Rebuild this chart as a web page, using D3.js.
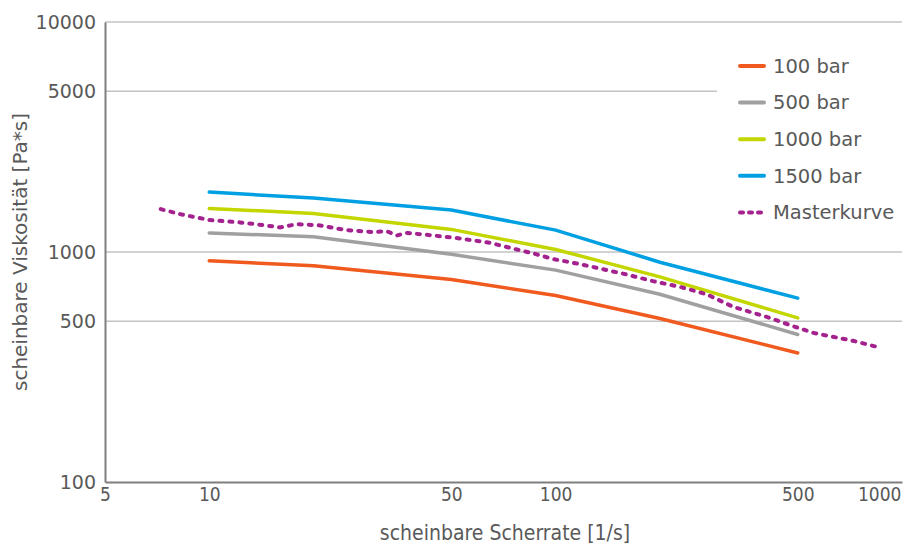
<!DOCTYPE html>
<html lang="de">
<head>
<meta charset="UTF-8">
<script src="https://cdn.jsdelivr.net/npm/d3@7"></script>
<style>
  body { margin: 0; background: #fff; }
  text { font-family: "DejaVu Sans", Verdana, sans-serif; fill: #595959; }
  .cond { font-family: "DejaVu Sans Condensed", "DejaVu Sans", sans-serif; }
</style>
</head>
<body>
<svg id="chart" width="909" height="545"></svg>
<script>
// shear rates for the pressure series [1/s]
const rates = [10, 20, 50, 100, 200, 500];
const visc100 = [915, 872, 760, 647, 514, 364];
const visc500 = [1211, 1164, 977, 834, 655, 438];
const visc1000 = [1547, 1471, 1254, 1026, 780, 517];
const visc1500 = [1822, 1715, 1521, 1245, 903, 630];

// master curve
const masterRates = [7.24, 8.23, 10.05, 12.27, 14.3, 16.0, 17.9, 20.9, 24.9, 29.8, 32.5, 34.8, 37.2,
  44.3, 53.0, 64.6, 77.2, 86.2, 98.5, 115, 134, 160, 191, 229, 273, 326, 407, 485, 554, 723, 863];
const masterVisc = [1536, 1461, 1376, 1345, 1309, 1279, 1322, 1305, 1245, 1220, 1232, 1180, 1211,
  1180, 1145, 1096, 1026, 986, 931, 892, 848, 799, 747, 705, 655, 577, 522, 476, 445, 411, 384];

const seriesNames = ["100 bar", "500 bar", "1000 bar", "1500 bar", "Masterkurve"];
const seriesColors = ["#f05a1e", "#a0a0a0", "#c3d600", "#00a0e3", "#a3228d"];

const xTicks = [5, 10, 50, 100, 500, 1000];
const yTicks = [100, 500, 1000, 5000, 10000];

const svg = d3.select("#chart");
const plotL = 105, plotR = 902, plotT = 22, plotB = 482;

const x = d3.scaleLog().domain([5, 1000]).range([plotL, plotR]);
const y = d3.scaleLog().domain([100, 10000]).range([plotB, plotT]);

// grid lines
svg.append("g")
  .selectAll("line")
  .data(yTicks.filter(d => d > 100))
  .join("line")
  .attr("x1", plotL).attr("x2", plotR)
  .attr("y1", d => y(d)).attr("y2", d => y(d))
  .attr("stroke", "#c3c3c3")
  .attr("stroke-width", 1.5);

// axes
const yAxis = svg.append("g")
  .attr("transform", `translate(${plotL},0)`)
  .call(d3.axisLeft(y).tickValues(yTicks).tickFormat(d3.format("d")).tickSize(0).tickPadding(9));
yAxis.select(".domain").attr("stroke", "#7f7f7f").attr("stroke-width", 2);
yAxis.selectAll("text").style("font-size", "19px").attr("dy", "0.35em");

const xAxis = svg.append("g")
  .attr("transform", `translate(0,${plotB})`)
  .call(d3.axisBottom(x).tickValues(xTicks).tickFormat(d3.format("d")).tickSize(0).tickPadding(6));
xAxis.select(".domain").attr("stroke", "#7f7f7f").attr("stroke-width", 2);
xAxis.selectAll("text")
  .attr("class", "cond")
  .style("font-size", "19px")
  .attr("text-anchor", d => d === 1000 ? "end" : "middle")
  .attr("dx", d => d === 1000 ? "-1" : null)
  .attr("dy", "0.71em");

// series
const line = d3.line().x(d => x(d[0])).y(d => y(d[1]));
[visc100, visc500, visc1000, visc1500].forEach((vals, i) => {
  svg.append("path")
    .datum(rates.map((r, j) => [r, vals[j]]))
    .attr("fill", "none")
    .attr("stroke", seriesColors[i])
    .attr("stroke-width", 3.5)
    .attr("stroke-linecap", "round")
    .attr("d", line);
});

svg.append("path")
  .datum(masterRates.map((r, j) => [r, masterVisc[j]]))
  .attr("fill", "none")
  .attr("stroke", seriesColors[4])
  .attr("stroke-width", 4)
  .attr("stroke-linecap", "round")
  .attr("stroke-dasharray", "3,7")
  .attr("d", line);

// legend
const legend = svg.append("g");
legend.append("rect")
  .attr("x", 717).attr("y", 40).attr("width", 192).attr("height", 192)
  .attr("fill", "#fff");
const items = legend.selectAll("g.item")
  .data(seriesNames)
  .join("g")
  .attr("class", "item")
  .attr("transform", (d, i) => `translate(738,${66 + i * 36.6})`);
items.append("line")
  .attr("x1", 2).attr("x2", 26)
  .attr("stroke", (d, i) => seriesColors[i])
  .attr("stroke-width", 4)
  .attr("stroke-linecap", "round")
  .attr("stroke-dasharray", (d, i) => i === 4 ? "3,6" : null);
items.append("text")
  .attr("x", 35).attr("dy", "0.35em")
  .style("font-size", "19.5px")
  .text(d => d);

// axis titles
svg.append("text")
  .attr("class", "cond")
  .attr("x", 505).attr("y", 540)
  .attr("text-anchor", "middle")
  .style("font-size", "21px")
  .text("scheinbare Scherrate [1/s]");

svg.append("text")
  .attr("transform", "translate(20,252) rotate(-90)")
  .attr("text-anchor", "middle")
  .attr("dy", "0.35em")
  .style("font-size", "20px")
  .text("scheinbare Viskosität [Pa*s]");
</script>
</body>
</html>
